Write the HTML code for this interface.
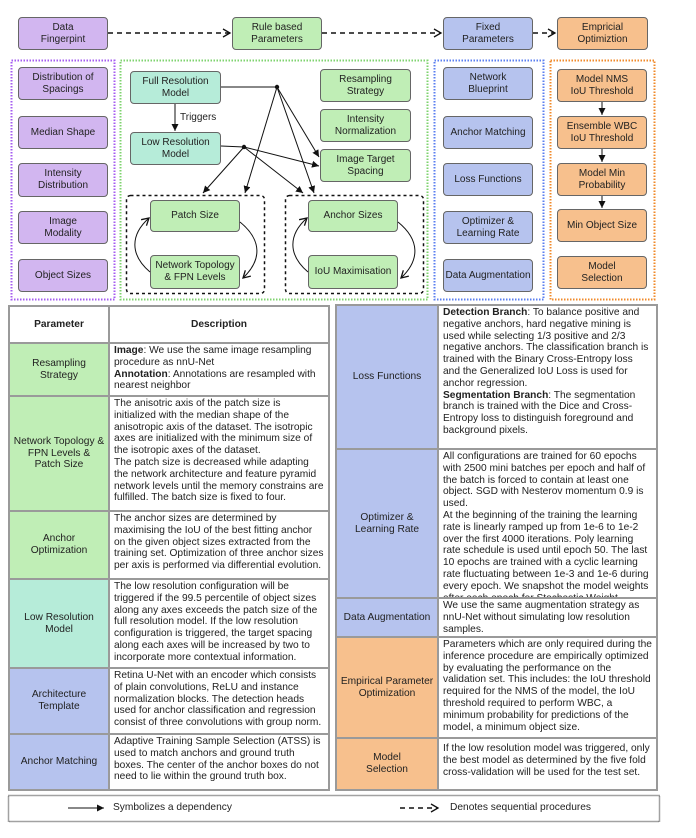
<!DOCTYPE html>
<html><head><meta charset="utf-8"><style>
*{box-sizing:border-box;margin:0;padding:0}
body{width:696px;height:838px;background:#fff;position:relative;font-family:"Liberation Sans",sans-serif;color:#222;overflow:hidden}
.b{position:absolute;border:1px solid #666;border-radius:4px;display:flex;align-items:center;justify-content:center;text-align:center;font-size:10px;line-height:12px}
.p{background:#d2b6f0}.g{background:#c0eeb6}.t{background:#b6ecd9}.bl{background:#b6c3ee}.o{background:#f7c08d}
.c{position:absolute;font-size:10.2px;line-height:11.8px}
.pc{display:flex;align-items:center;justify-content:center;text-align:center}
.dc{background:#fff;padding:1px 4px}
.tb{position:absolute;background:#9a9a9a}
</style></head><body>

<div class="b p" style="left:18px;top:17px;width:90px;height:33px">Data<br>Fingerpint</div>
<div class="b g" style="left:232px;top:17px;width:90px;height:33px">Rule based<br>Parameters</div>
<div class="b bl" style="left:443px;top:17px;width:90px;height:33px">Fixed<br>Parameters</div>
<div class="b o" style="left:557px;top:17px;width:91px;height:33px">Empricial<br>Optimiztion</div>

<div class="b p" style="left:18px;top:67px;width:90px;height:33px">Distribution of<br>Spacings</div>
<div class="b p" style="left:18px;top:116px;width:90px;height:33px">Median Shape</div>
<div class="b p" style="left:18px;top:163px;width:90px;height:34px">Intensity<br>Distribution</div>
<div class="b p" style="left:18px;top:211px;width:90px;height:33px">Image<br>Modality</div>
<div class="b p" style="left:18px;top:259px;width:90px;height:33px">Object Sizes</div>

<div class="b t" style="left:130px;top:71px;width:91px;height:33px">Full Resolution<br>Model</div>
<div class="b t" style="left:130px;top:132px;width:91px;height:33px">Low Resolution<br>Model</div>
<div class="c" style="left:180px;top:112px;font-size:10px">Triggers</div>
<div class="b g" style="left:320px;top:69px;width:91px;height:33px">Resampling<br>Strategy</div>
<div class="b g" style="left:320px;top:109px;width:91px;height:33px">Intensity<br>Normalization</div>
<div class="b g" style="left:320px;top:149px;width:91px;height:33px">Image Target<br>Spacing</div>
<div class="b g" style="left:150px;top:200px;width:90px;height:32px">Patch Size</div>
<div class="b g" style="left:150px;top:255px;width:90px;height:34px">Network Topology<br>&amp; FPN Levels</div>
<div class="b g" style="left:308px;top:200px;width:90px;height:32px">Anchor Sizes</div>
<div class="b g" style="left:308px;top:255px;width:90px;height:34px">IoU Maximisation</div>

<div class="b bl" style="left:443px;top:67px;width:90px;height:33px">Network<br>Blueprint</div>
<div class="b bl" style="left:443px;top:116px;width:90px;height:33px">Anchor Matching</div>
<div class="b bl" style="left:443px;top:163px;width:90px;height:33px">Loss Functions</div>
<div class="b bl" style="left:443px;top:211px;width:90px;height:33px">Optimizer &amp;<br>Learning Rate</div>
<div class="b bl" style="left:443px;top:259px;width:90px;height:33px">Data Augmentation</div>

<div class="b o" style="left:557px;top:69px;width:90px;height:33px">Model NMS<br>IoU Threshold</div>
<div class="b o" style="left:557px;top:116px;width:90px;height:33px">Ensemble WBC<br>IoU Threshold</div>
<div class="b o" style="left:557px;top:163px;width:90px;height:33px">Model Min<br>Probability</div>
<div class="b o" style="left:557px;top:209px;width:90px;height:33px">Min Object Size</div>
<div class="b o" style="left:557px;top:256px;width:90px;height:33px">Model<br>Selection</div>

<div class="tb" style="left:8px;top:305px;width:322px;height:486px"></div>
<div class="c pc dc" style="left:10px;top:307px;width:98px;height:35px;font-weight:bold">Parameter</div>
<div class="c pc dc" style="left:110px;top:307px;width:218px;height:35px;font-weight:bold">Description</div>
<div class="c pc g" style="left:10px;top:344px;width:98px;height:51px">Resampling<br>Strategy</div>
<div class="c dc" style="left:110px;top:344px;width:218px;height:51px"><b>Image</b>: We use the same image resampling procedure as nnU-Net<br><b>Annotation</b>: Annotations are resampled with nearest neighbor</div>
<div class="c pc g" style="left:10px;top:397px;width:98px;height:113px">Network Topology &amp;<br>FPN Levels &amp;<br>Patch Size</div>
<div class="c dc" style="left:110px;top:397px;width:218px;height:113px">The anisotric axis of the patch size is initialized with the median shape of the anisotropic axis of the dataset. The isotropic axes are initialized with the minimum size of the isotropic axes of the dataset.<br>The patch size is decreased while adapting the network architecture and feature pyramid network levels until the memory constrains are fulfilled. The batch size is fixed to four.</div>
<div class="c pc g" style="left:10px;top:512px;width:98px;height:66px">Anchor<br>Optimization</div>
<div class="c dc" style="left:110px;top:512px;width:218px;height:66px">The anchor sizes are determined by maximising the IoU of the best fitting anchor on the given object sizes extracted from the training set. Optimization of three anchor sizes per axis is performed via differential evolution.</div>
<div class="c pc t" style="left:10px;top:580px;width:98px;height:87px">Low Resolution<br>Model</div>
<div class="c dc" style="left:110px;top:580px;width:218px;height:87px">The low resolution configuration will be triggered if the 99.5 percentile of object sizes along any axes exceeds the patch size of the full resolution model. If the low resolution configuration is triggered, the target spacing along each axes will be increased by two to incorporate more contextual information.</div>
<div class="c pc bl" style="left:10px;top:669px;width:98px;height:64px">Architecture<br>Template</div>
<div class="c dc" style="left:110px;top:669px;width:218px;height:64px">Retina U-Net with an encoder which consists of plain convolutions, ReLU and instance normalization blocks. The detection heads used for anchor classification and regression consist of three convolutions with group norm.</div>
<div class="c pc bl" style="left:10px;top:735px;width:98px;height:54px">Anchor Matching</div>
<div class="c dc" style="left:110px;top:735px;width:218px;height:54px">Adaptive Training Sample Selection (ATSS) is used to match anchors and ground truth boxes. The center of the anchor boxes do not need to lie within the ground truth box.</div>

<div class="tb" style="left:335px;top:304px;width:323px;height:487px"></div>
<div class="c pc bl" style="left:337px;top:306px;width:100px;height:142px">Loss Functions</div>
<div class="c dc" style="left:439px;top:306px;width:217px;height:142px;overflow:hidden"><b>Detection Branch</b>: To balance positive and negative anchors, hard negative mining is used while selecting 1/3 positive and 2/3 negative anchors. The classification branch is trained with the Binary Cross-Entropy loss and the Generalized IoU Loss is used for anchor regression.<br><b>Segmentation Branch</b>: The segmentation branch is trained with the Dice and Cross-Entropy loss to distinguish foreground and background pixels.</div>
<div class="c pc bl" style="left:337px;top:450px;width:100px;height:147px">Optimizer &amp;<br>Learning Rate</div>
<div class="c dc" style="left:439px;top:450px;width:217px;height:147px;overflow:hidden">All configurations are trained for 60 epochs with 2500 mini batches per epoch and half of the batch is forced to contain at least one object. SGD with Nesterov momentum 0.9 is used.<br>At the beginning of the training the learning rate is linearly ramped up from 1e-6 to 1e-2 over the first 4000 iterations. Poly learning rate schedule is used until epoch 50. The last 10 epochs are trained with a cyclic learning rate fluctuating between 1e-3 and 1e-6 during every epoch. We snapshot the model weights after each epoch for Stochastic Weight Averaging.</div>
<div class="c pc bl" style="left:337px;top:599px;width:100px;height:37px">Data Augmentation</div>
<div class="c dc" style="left:439px;top:599px;width:217px;height:37px;overflow:hidden;padding-right:14px">We use the same augmentation strategy as nnU-Net without simulating low resolution samples.</div>
<div class="c pc o" style="left:337px;top:638px;width:100px;height:99px">Empirical Parameter<br>Optimization</div>
<div class="c dc" style="left:439px;top:638px;width:217px;height:99px;overflow:hidden">Parameters which are only required during the inference procedure are empirically optimized by evaluating the performance on the validation set. This includes: the IoU threshold required for the NMS of the model, the IoU threshold required to perform WBC, a minimum probability for predictions of the model, a minimum object size.</div>
<div class="c pc o" style="left:337px;top:739px;width:100px;height:50px">Model<br>Selection</div>
<div class="c dc" style="left:439px;top:739px;width:217px;height:50px;padding-top:4px">If the low resolution model was triggered, only the best model as determined by the five fold cross-validation will be used for the test set.</div>

<div class="c" style="left:113px;top:802px">Symbolizes a dependency</div>
<div class="c" style="left:450px;top:802px">Denotes sequential procedures</div>

<svg width="696" height="838" style="position:absolute;left:0;top:0" xmlns="http://www.w3.org/2000/svg">
<defs>
<marker id="a" markerWidth="8" markerHeight="8" refX="7" refY="4" orient="auto" markerUnits="userSpaceOnUse"><path d="M0,0.5 L7,4 L0,7.5 z" fill="#111"/></marker>
<marker id="o" markerWidth="10" markerHeight="10" refX="8" refY="5" orient="auto" markerUnits="userSpaceOnUse"><path d="M1,1 L8,5 L1,9" fill="none" stroke="#111" stroke-width="1.3"/></marker>
</defs>
<rect x="11.5" y="60.5" width="103" height="239" fill="none" stroke="#a55cf0" stroke-width="2" stroke-dasharray="1.5 1.5"/>
<rect x="120.5" y="60.5" width="307" height="239" fill="none" stroke="#7fd36f" stroke-width="2" stroke-dasharray="1.5 1.5"/>
<rect x="434.5" y="60.5" width="109" height="239" fill="none" stroke="#5b7ff0" stroke-width="2" stroke-dasharray="1.5 1.5"/>
<rect x="550.5" y="60.5" width="104" height="239" fill="none" stroke="#f08a2a" stroke-width="2" stroke-dasharray="1.5 1.5"/>
<rect x="126.5" y="195.5" width="138" height="98" rx="4" fill="none" stroke="#111" stroke-width="1.5" stroke-dasharray="3 3"/>
<rect x="285.5" y="195.5" width="138" height="98" rx="4" fill="none" stroke="#111" stroke-width="1.5" stroke-dasharray="3 3"/>
<rect x="8.5" y="795.5" width="651" height="26" fill="none" stroke="#444" stroke-width="1.5" stroke-dasharray="1 1"/>
<g stroke="#111" stroke-width="1.5" fill="none" stroke-dasharray="5 4">
<line x1="108" y1="33" x2="230" y2="33" marker-end="url(#o)"/>
<line x1="322" y1="33" x2="441" y2="33" marker-end="url(#o)"/>
<line x1="533" y1="33" x2="555" y2="33" marker-end="url(#o)"/>
<line x1="400" y1="808" x2="438" y2="808" marker-end="url(#o)"/>
</g>
<g stroke="#111" stroke-width="1" fill="none">
<line x1="221" y1="87" x2="277" y2="87"/>
<line x1="221" y1="146" x2="244" y2="147"/>
<line x1="175" y1="104" x2="175" y2="131" marker-end="url(#a)"/>
<line x1="277" y1="87" x2="319" y2="157" marker-end="url(#a)"/>
<line x1="277" y1="87" x2="245" y2="193" marker-end="url(#a)"/>
<line x1="277" y1="87" x2="314" y2="193" marker-end="url(#a)"/>
<line x1="244" y1="147" x2="203" y2="193" marker-end="url(#a)"/>
<line x1="244" y1="147" x2="303" y2="193" marker-end="url(#a)"/>
<line x1="244" y1="147" x2="319" y2="166" marker-end="url(#a)"/>
<line x1="602" y1="102" x2="602" y2="115" marker-end="url(#a)"/>
<line x1="602" y1="149" x2="602" y2="162" marker-end="url(#a)"/>
<line x1="602" y1="196" x2="602" y2="208" marker-end="url(#a)"/>
<path d="M240,222 C262,240 262,260 243,278" marker-end="url(#o)"/>
<path d="M150,272 C130,255 130,235 149,218" marker-end="url(#o)"/>
<path d="M398,222 C420,240 420,260 401,278" marker-end="url(#o)"/>
<path d="M308,272 C288,255 288,235 307,218" marker-end="url(#o)"/>
<line x1="68" y1="808" x2="104" y2="808" marker-end="url(#a)"/>
</g>
<circle cx="277" cy="87" r="2.2" fill="#111"/>
<circle cx="244" cy="147" r="2.2" fill="#111"/>
</svg>
</body></html>
